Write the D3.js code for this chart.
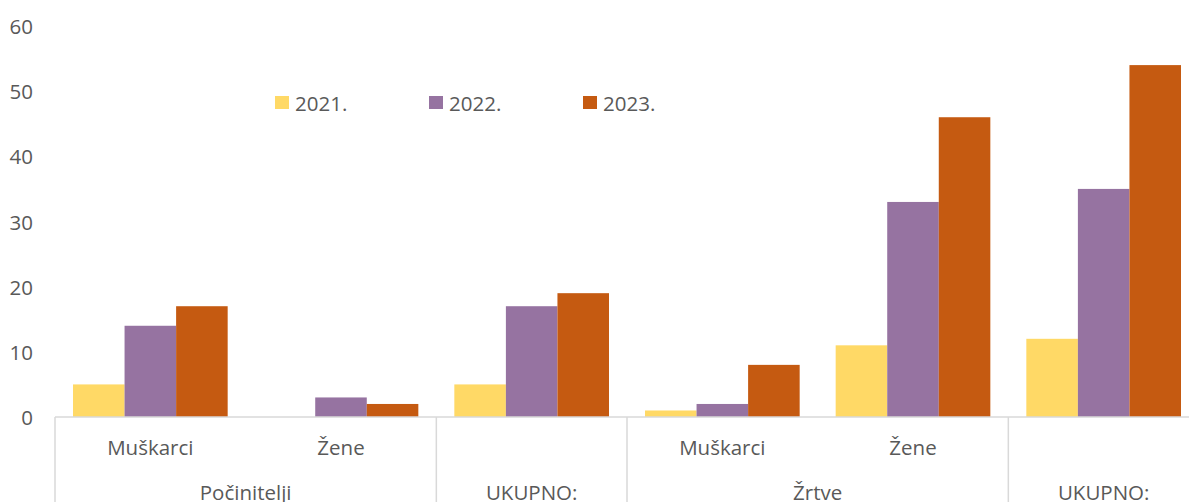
<!DOCTYPE html>
<html>
<head>
<meta charset="utf-8">
<script src="https://cdn.jsdelivr.net/npm/d3@7"></script>
<style>
  html, body { margin: 0; padding: 0; background: #fff; overflow: hidden; }
  text { font-family: "Open Sans", sans-serif; fill: #595959; font-size: 20.5px; }
</style>
</head>
<body>
<svg id="chart" width="1189" height="502"></svg>
<script>
// chart data
var years = ["2021.", "2022.", "2023."];
var subLabels = ["Muškarci", "Žene", "", "Muškarci", "Žene", ""];
var mainGroups = ["Počinitelji", "UKUPNO:", "Žrtve", "UKUPNO:"];
var groupSpans = [2, 1, 2, 1];   // how many sub categories each main group covers
var values2021 = [5, 0, 5, 1, 11, 12];
var values2022 = [14, 3, 17, 2, 33, 35];
var values2023 = [17, 2, 19, 8, 46, 54];
var yTicks = [0, 10, 20, 30, 40, 50, 60];
var colors = ["#FFD966", "#9673A1", "#C55A11"];

var series = [values2021, values2022, values2023];

var svg = d3.select("#chart");

// plot runs a bit past the right edge like the original
var x0 = d3.scaleBand()
	.domain(d3.range(subLabels.length))
	.range([55, 1199]);

var x1 = d3.scaleBand()
	.domain(d3.range(years.length))
	.range([18, x0.bandwidth() - 18]);

var y = d3.scaleLinear()
	.domain([0, 60])
	.range([417, 26]);

// y axis labels, no axis line
svg.append("g")
	.selectAll("text")
	.data(yTicks)
	.enter().append("text")
	.attr("x", 33)
	.attr("y", function(d) { return y(d); })
	.attr("text-anchor", "end")
	.attr("dominant-baseline", "central")
	.text(function(d) { return d; });

// bars
series.forEach(function(vals, s) {
	svg.append("g")
		.selectAll("rect")
		.data(vals)
		.enter().append("rect")
		.attr("x", function(d, i) { return x0(i) + x1(s); })
		.attr("y", function(d) { return y(d); })
		.attr("width", x1.bandwidth())
		.attr("height", function(d) { return y(0) - y(d); })
		.attr("fill", colors[s]);
});

// category axis line
svg.append("line")
	.attr("x1", 55).attr("x2", 1199)
	.attr("y1", y(0)).attr("y2", y(0))
	.attr("stroke", "#D9D9D9")
	.attr("stroke-width", 1.5);

// separators between main groups
var start = 0;
var boundaries = [0];
groupSpans.forEach(function(n) { start += n; boundaries.push(start); });

svg.append("g")
	.selectAll("line")
	.data(boundaries.slice(0, -1))
	.enter().append("line")
	.attr("x1", function(d) { return x0(d); })
	.attr("x2", function(d) { return x0(d); })
	.attr("y1", y(0)).attr("y2", 510)
	.attr("stroke", "#D9D9D9")
	.attr("stroke-width", 1.5);

// sub category labels
svg.append("g")
	.selectAll("text")
	.data(subLabels)
	.enter().append("text")
	.attr("x", function(d, i) { return x0(i) + x0.bandwidth() / 2; })
	.attr("y", 447)
	.attr("text-anchor", "middle")
	.attr("dominant-baseline", "central")
	.text(function(d) { return d; });

// main group labels (descenders run off the bottom edge, as in the original)
svg.append("g")
	.selectAll("text")
	.data(mainGroups)
	.enter().append("text")
	.attr("x", function(d, i) {
		return (x0(boundaries[i]) + x0(boundaries[i + 1] - 1) + x0.bandwidth()) / 2;
	})
	.attr("y", 500)
	.attr("text-anchor", "middle")
	.text(function(d) { return d; });

// legend
var legendX = [275, 429, 583];
var legend = svg.append("g")
	.selectAll("g")
	.data(years)
	.enter().append("g")
	.attr("transform", function(d, i) { return "translate(" + legendX[i] + ",96)"; });

legend.append("rect")
	.attr("width", 14)
	.attr("height", 13)
	.attr("fill", function(d, i) { return colors[i]; });

legend.append("text")
	.attr("x", 20)
	.attr("y", 6.5)
	.attr("dominant-baseline", "central")
	.text(function(d) { return d; });
</script>
</body>
</html>
